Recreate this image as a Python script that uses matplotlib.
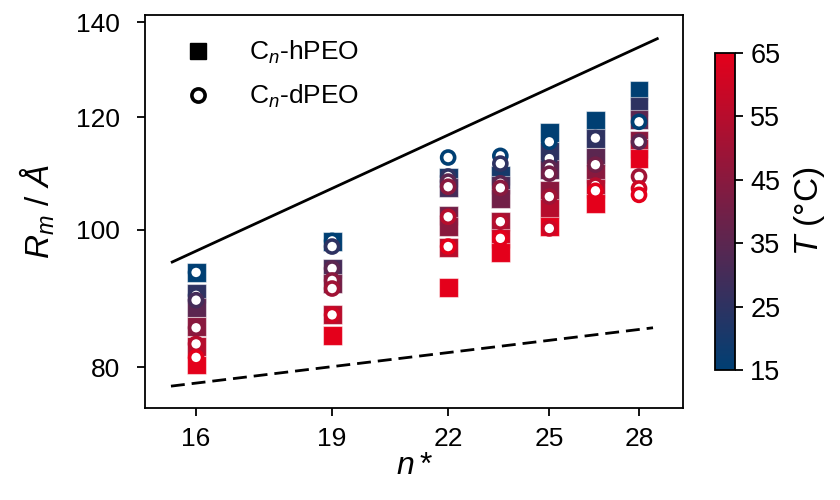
import matplotlib
matplotlib.use("Agg")
import matplotlib.pyplot as plt
from matplotlib.colors import LinearSegmentedColormap, Normalize
from matplotlib.lines import Line2D
import numpy as np

plt.rcParams['font.family'] = ['Liberation Sans', 'DejaVu Sans']
plt.rcParams['mathtext.fontset'] = 'custom'
plt.rcParams['mathtext.rm'] = 'Liberation Sans'
plt.rcParams['mathtext.it'] = 'Liberation Sans:italic'
plt.rcParams['mathtext.bf'] = 'Liberation Sans:bold'

# ---- data ----
# C_n-hPEO (squares)
h_n = [16, 16, 16, 16, 16, 16,
       19, 19, 19, 19, 19,
       22, 22, 22, 22, 22, 22,
       23.5, 23.5, 23.5, 23.5, 23.5, 23.5,
       25, 25, 25, 25, 25, 25,
       26.5, 26.5, 26.5, 26.5, 26.5, 26.5,
       28, 28, 28, 28, 28, 28]
h_R = [93.3, 90.2, 88.2, 85.5, 82.8, 80.3,
       98.1, 93.9, 91.6, 87.1, 84.2,
       108.8, 107.0, 102.3, 100.5, 97.2, 91.0,
       109.2, 107.5, 105.2, 101.3, 98.6, 96.3,
       117.0, 113.5, 110.3, 106.5, 103.5, 100.5,
       119.3, 116.0, 112.5, 109.5, 106.9, 104.3,
       125.3, 122.1, 119.5, 115.5, 114.0, 112.2]
h_T = [15, 25, 35, 45, 55, 65,
       15, 30, 40, 55, 65,
       20, 30, 40, 45, 55, 65,
       20, 30, 40, 50, 60, 65,
       15, 25, 35, 45, 55, 65,
       15, 25, 35, 45, 55, 65,
       15, 25, 35, 45, 55, 65]

# C_n-dPEO (circles)
d_n = [16, 16, 16, 16, 16, 16,
       19, 19, 19, 19, 19, 19,
       22, 22, 22, 22, 22, 22,
       23.5, 23.5, 23.5, 23.5, 23.5, 23.5,
       25, 25, 25, 25, 25, 25,
       26.5, 26.5, 26.5, 26.5,
       28, 28, 28, 28, 28]
d_R = [93.3, 89.9, 89.2, 85.3, 83.1, 81.3,
       98.2, 97.3, 93.9, 92.1, 90.9, 87.1,
       112.4, 109.0, 108.1, 107.2, 102.1, 97.3,
       112.7, 111.3, 107.8, 107.0, 101.3, 98.6,
       115.3, 112.2, 110.6, 109.5, 105.5, 100.2,
       116.0, 111.1, 107.4, 106.5,
       119.1, 115.3, 109.0, 106.9, 105.8]
d_T = [15, 25, 30, 45, 55, 65,
       15, 25, 35, 45, 50, 60,
       15, 25, 35, 45, 55, 65,
       15, 25, 35, 45, 55, 65,
       15, 25, 35, 40, 50, 60,
       25, 40, 55, 65,
       15, 35, 50, 60, 65]

# guide lines (power laws, endpoints)
solid_n = [15.5, 28.7]
solid_R = [94.8, 136.4]
dash_n = [15.5, 28.5]
dash_R = [77.6, 85.3]

x_ticks = [16, 19, 22, 25, 28]
y_ticks = [80, 100, 120, 140]
cb_ticks = [15, 25, 35, 45, 55, 65]

# ---- plot ----
cmap = LinearSegmentedColormap.from_list('bluered', ['#003f73', '#e4001b'])
norm = Normalize(vmin=15, vmax=65)

fig = plt.figure(figsize=(8.4, 5.0), dpi=100)
ax = fig.add_axes([145/840, 1-408/500, (683-145)/840, (408-15)/500])

ax.plot(solid_n, solid_R, color='black', lw=2.0, solid_capstyle='butt')
ax.plot(dash_n, dash_R, color='black', lw=2.0, ls=(0, (5, 2.5)))

ax.scatter(h_n, h_R, c=h_T, cmap=cmap, norm=norm, marker='s', s=185,
           edgecolors=(1, 1, 1, 0.5), linewidths=0.8, zorder=3)
ax.scatter(d_n, d_R, marker='o', s=88, facecolors='white',
           edgecolors=cmap(norm(np.array(d_T))), linewidths=2.6, zorder=4)

ax.set_xscale('log')
ax.set_yscale('log')
ax.set_xlim(15.0, 29.6)
ax.set_ylim(74.9, 141.6)
ax.set_xticks(x_ticks)
ax.set_xticklabels([str(t) for t in x_ticks])
ax.set_yticks(y_ticks)
ax.set_yticklabels([str(t) for t in y_ticks])
ax.minorticks_off()
ax.tick_params(axis='both', which='major', labelsize=19, direction='out',
               length=6, width=1.3)
ax.tick_params(axis='x', pad=8)
ax.tick_params(axis='y', pad=12)
for sp in ax.spines.values():
    sp.set_linewidth(1.3)

ax.set_xlabel(r'$n*$', fontsize=23, labelpad=0)
ax.set_ylabel(r'$R_m$ / $Å$', fontsize=24, labelpad=14)

handles = [Line2D([], [], ls='none', marker='s', ms=12, color='black'),
           Line2D([], [], ls='none', marker='o', ms=9.5, mfc='white',
                  mec='black', mew=2.6)]
ax.legend(handles, [r'C$_n$-hPEO', r'C$_n$-dPEO'], loc='upper left',
          frameon=False, fontsize=19, handletextpad=0.95,
          labelspacing=0.65, borderaxespad=0.5, bbox_to_anchor=(0.005, 1.0))

cax = fig.add_axes([715/840, 1-370/500, 20/840, 317/500])
sm = plt.cm.ScalarMappable(cmap=cmap, norm=norm)
cb = fig.colorbar(sm, cax=cax, ticks=cb_ticks)
cb.outline.set_linewidth(1.3)
cb.ax.tick_params(labelsize=19.5, length=6, width=1.3, pad=5)
cb.set_label(r'$T$ (°C)', fontsize=24, labelpad=8)

fig.savefig('out.png', dpi=100)
